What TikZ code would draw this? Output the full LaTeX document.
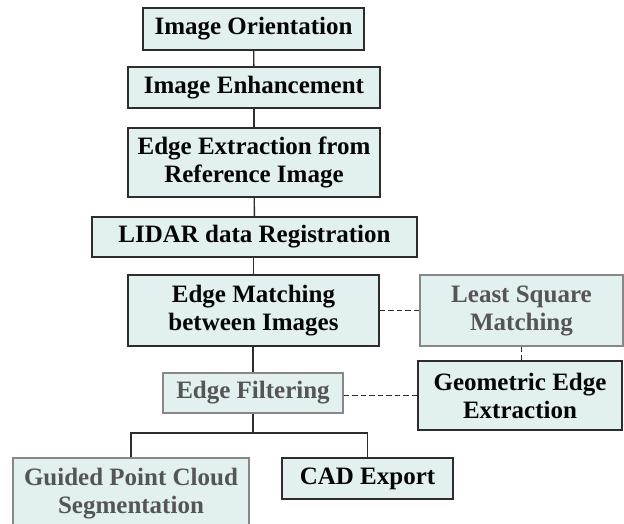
\documentclass[tikz,border=0pt]{standalone}
\usepackage{fontspec}
\setmainfont{Liberation Serif}
\begin{document}
\begin{tikzpicture}[x=1pt,y=-1pt,
  boxfill/.style={fill={rgb,255:red,226;green,240;blue,240}},
  mainbox/.style={boxfill,draw={rgb,255:red,45;green,45;blue,45},line width=1.4pt,
    inner sep=0pt,align=center,text={rgb,255:red,5;green,5;blue,5},
    font=\fontsize{25}{28}\selectfont\bfseries},
  greybox/.style={mainbox,draw={rgb,255:red,135;green,135;blue,135},
    text={rgb,255:red,85;green,85;blue,85}},
  link/.style={draw={rgb,255:red,45;green,45;blue,45},line width=1.4pt},
  dashlink/.style={link,dash pattern=on 5.5pt off 3pt}]
\useasboundingbox (0,0) rectangle (624,524);
\clip (0,0) rectangle (624,524);
\fill[white] (0,0) rectangle (624,524);

% main chain
\node[mainbox,minimum width=221pt,minimum height=42pt] (io) at (253.5,29) {Image Orientation};
\node[mainbox,minimum width=252pt,minimum height=41pt] (ie) at (254,87.5) {Image Enhancement};
\node[mainbox,minimum width=252pt,minimum height=69pt] (ee) at (254,162.5) {Edge Extraction from\\Reference Image};
\node[mainbox,minimum width=325pt,minimum height=40pt] (lidar) at (254.5,237) {LIDAR data Registration};
\node[mainbox,minimum width=251pt,minimum height=71pt] (em) at (253.5,310.5) {Edge Matching\\between Images};
\node[greybox,minimum width=180pt,minimum height=40pt] (ef) at (253,393) {Edge Filtering};

% side branch
\node[greybox,minimum width=203pt,minimum height=71pt] (ls) at (521.5,310.5) {Least Square\\Matching};
\node[mainbox,minimum width=204pt,minimum height=69pt] (ge) at (520,395.5) {Geometric Edge\\Extraction};

% outputs
\node[greybox,minimum width=236pt,minimum height=72pt] (gp) at (131,494) {Guided Point Cloud\\Segmentation};
\node[mainbox,minimum width=171pt,minimum height=41pt] (cad) at (367.5,478.5) {CAD Export};

% solid connectors
\draw[link] (io) -- (ie);
\draw[link] (ie) -- (ee);
\draw[link] (ee) -- (lidar);
\draw[link] (lidar.south -| em.north) -- (em);
\draw[link] (em.south -| ef.north) -- (ef);
\coordinate (fork) at (253,433);
\draw[link] (ef.south) -- (fork) -| (gp.north);
\draw[link] (fork) -| (cad.north);

% dashed connectors
\draw[dashlink] (em.east) -- (ls.west);
\draw[dashlink] (ls.south) -- (ls.south |- ge.north);
\draw[dashlink] (ef.east |- ge.west) -- (ge.west);
\end{tikzpicture}
\end{document}
